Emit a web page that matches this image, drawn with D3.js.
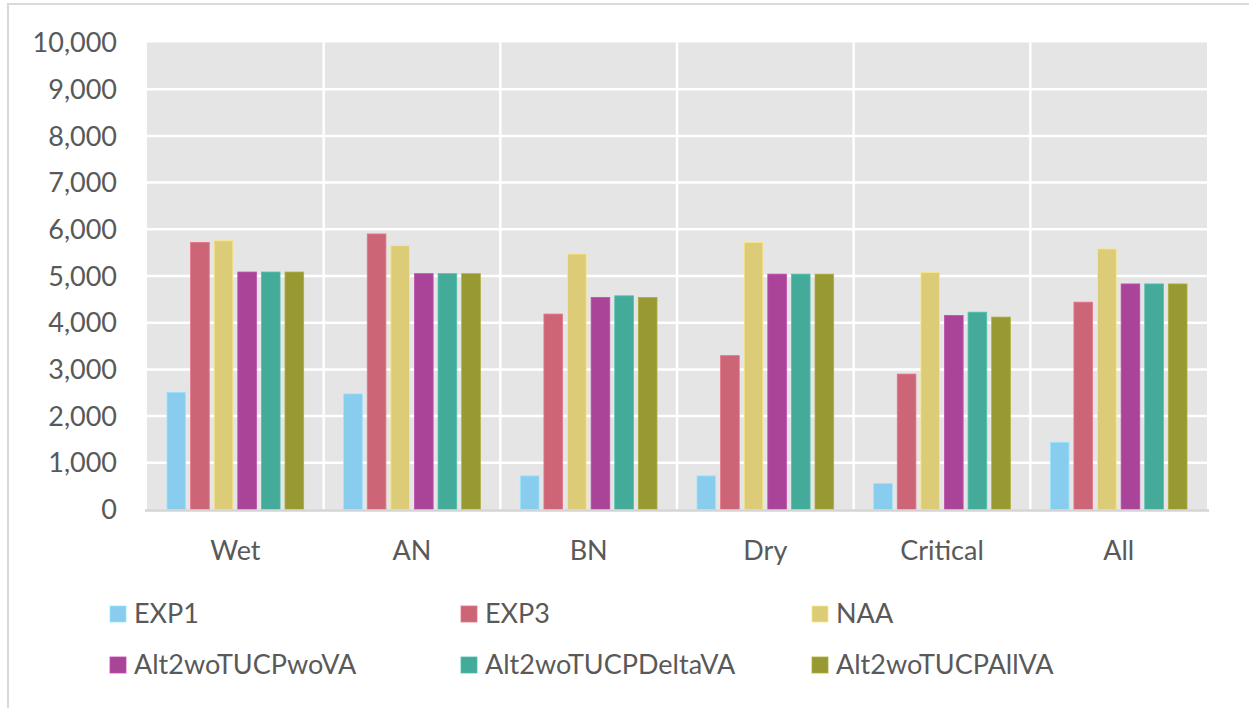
<!DOCTYPE html>
<html>
<head>
<meta charset="utf-8">
<script src="https://cdn.jsdelivr.net/npm/d3@7"></script>
<style>
html,body{margin:0;padding:0;background:#fff;}
svg{display:block;}
text{font-family:Lato,"Open Sans",sans-serif;fill:#595959;}
</style>
</head>
<body>
<svg id="chart" width="1249" height="708"></svg>
<script>
const categories = ["Wet","AN","BN","Dry","Critical","All"];
const seriesNames = ["EXP1","EXP3","NAA","Alt2woTUCPwoVA","Alt2woTUCPDeltaVA","Alt2woTUCPAllVA"];
const colors = ["#88CCEE","#CC6677","#DDCC77","#AA4499","#44AA99","#999933"];
const EXP1 = [2510, 2475, 720, 720, 560, 1440];
const EXP3 = [5720, 5900, 4185, 3295, 2900, 4440];
const NAA = [5755, 5650, 5470, 5720, 5075, 5580];
const Alt2woTUCPwoVA = [5085, 5050, 4540, 5040, 4155, 4830];
const Alt2woTUCPDeltaVA = [5085, 5050, 4575, 5040, 4225, 4830];
const Alt2woTUCPAllVA = [5085, 5050, 4540, 5040, 4120, 4830];
const yTicks = [0,1000,2000,3000,4000,5000,6000,7000,8000,9000,10000];

const seriesValues = [EXP1, EXP3, NAA, Alt2woTUCPwoVA, Alt2woTUCPDeltaVA, Alt2woTUCPAllVA];
const fontSize = 27;

const svg = d3.select("#chart");

// outer frame (partially visible)
svg.append("line").attr("x1",7).attr("x2",1249).attr("y1",4).attr("y2",4)
  .attr("stroke","#d9d9d9").attr("stroke-width",2);
svg.append("line").attr("x1",8).attr("x2",8).attr("y1",3).attr("y2",708)
  .attr("stroke","#d9d9d9").attr("stroke-width",2);

const pLeft = 147, pRight = 1207, pTop = 42.5, pBottom = 509.5;
const x0 = d3.scaleBand().domain(categories).range([pLeft,pRight]).paddingInner(0).paddingOuter(0);
const groupPad = 20;
const x1 = d3.scaleBand().domain(seriesNames).range([groupPad, x0.bandwidth()-groupPad]).paddingInner(0.21);
const y = d3.scaleLinear().domain([0,10000]).range([pBottom,pTop]);

// plot background
svg.append("rect").attr("x",pLeft).attr("y",pTop).attr("width",pRight-pLeft).attr("height",pBottom-pTop).attr("fill","#e5e5e5");

// horizontal gridlines
svg.append("g").selectAll("line").data(yTicks.filter(d=>d>0 && d<10000)).join("line")
  .attr("x1",pLeft).attr("x2",pRight).attr("y1",d=>y(d)).attr("y2",d=>y(d))
  .attr("stroke","#ffffff").attr("stroke-width",2.5);

// vertical category separators
svg.append("g").selectAll("line").data(categories.slice(1)).join("line")
  .attr("x1",d=>x0(d)).attr("x2",d=>x0(d)).attr("y1",pTop).attr("y2",pBottom)
  .attr("stroke","#ffffff").attr("stroke-width",2.5);

// bars
const groups = svg.append("g").selectAll("g").data(categories).join("g")
  .attr("transform",d=>`translate(${x0(d)},0)`);
groups.selectAll("rect").data((c,ci)=>seriesNames.map((s,si)=>({s, si, v: seriesValues[si][ci]}))).join("rect")
  .attr("x",d=>x1(d.s)).attr("width",x1.bandwidth())
  .attr("y",d=>y(d.v)).attr("height",d=>y(0)-y(d.v))
  .attr("fill",d=>colors[d.si])
  .attr("stroke",d=>d3.color(colors[d.si]).brighter(0.35))
  .attr("stroke-width",0.8);

// baseline
svg.append("line").attr("x1",pLeft-2).attr("x2",pRight+2).attr("y1",pBottom+1).attr("y2",pBottom+1)
  .attr("stroke","#d4d4d4").attr("stroke-width",2.5);

// y axis
const yAxis = d3.axisLeft(y).tickValues(yTicks).tickFormat(d3.format(",")).tickSize(0).tickPadding(0);
const yg = svg.append("g").attr("transform",`translate(117,0)`).call(yAxis);
yg.select(".domain").remove();
yg.selectAll("text").attr("font-size",fontSize).attr("dy","0.34em").attr("dx",0)
  .style("font-family","Lato,'Open Sans',sans-serif").attr("fill","#595959");

// x axis
const xAxis = d3.axisBottom(x0).tickSize(0).tickPadding(0);
const xg = svg.append("g").attr("transform",`translate(0,560)`).call(xAxis);
xg.select(".domain").remove();
xg.selectAll("text").attr("font-size",fontSize).attr("dy","0")
  .style("font-family","Lato,'Open Sans',sans-serif").attr("fill","#595959");

// legend
const legendCols = [110, 461, 812];
const legendRows = [614, 665];
const lg = svg.append("g").selectAll("g").data(seriesNames).join("g")
  .attr("transform",(d,i)=>`translate(${legendCols[i%3]},${legendRows[Math.floor(i/3)]})`);
lg.append("rect").attr("x",0).attr("y",-8).attr("width",16).attr("height",16)
  .attr("fill",(d,i)=>colors[i]).attr("stroke",(d,i)=>d3.color(colors[i]).brighter(0.35)).attr("stroke-width",0.8);
lg.append("text").attr("x",24).attr("y",0).attr("dy","0.35em").attr("font-size",fontSize).text(d=>d);
</script>
</body>
</html>
